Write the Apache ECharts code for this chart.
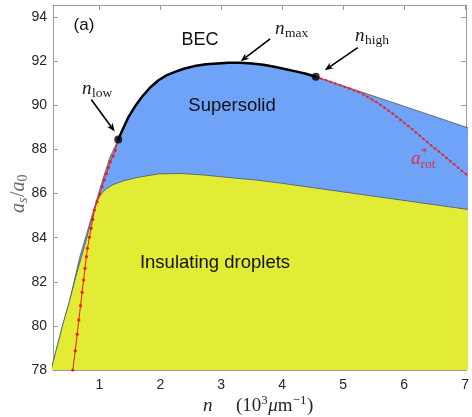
<!DOCTYPE html>
<html>
<head>
<meta charset="utf-8">
<script src="https://cdn.jsdelivr.net/npm/echarts@6/dist/echarts.min.js"></script>
<style>
  html, body { margin: 0; padding: 0; background: #fff; }
  #chart { width: 472px; height: 417px; }
</style>
</head>
<body>
<div id="chart"></div>
<script>
// Phase diagram of a dipolar gas: density n (10^3 um^-1) vs scattering length a_s/a_0
const xTicks = [1, 2, 3, 4, 5, 6, 7];
const yTicks = [78, 80, 82, 84, 86, 88, 90, 92, 94];

// lower-left edge of the supersolid region, up to n_low
const edgeLow = [[0.20, 77.85], [0.23, 78.23], [0.40, 80.05], [0.516, 81.17], [0.677, 83.1],
  [0.80, 84.25], [0.89, 85.1], [1.053, 86.61], [1.17, 87.62], [1.31, 88.45]];
// BEC / supersolid transition line from n_low to n_high
const becLine = [[1.31, 88.45], [1.39, 88.95], [1.48, 89.48], [1.59, 89.97], [1.70, 90.39],
  [1.83, 90.8], [1.97, 91.14], [2.10, 91.36], [2.24, 91.52], [2.40, 91.67], [2.56, 91.78],
  [2.75, 91.86], [2.94, 91.9], [3.12, 91.93], [3.31, 91.93], [3.50, 91.9], [3.69, 91.84],
  [3.87, 91.75], [4.06, 91.64], [4.22, 91.54], [4.39, 91.43], [4.55, 91.3]];
// upper edge beyond n_high
const edgeHigh = [[4.55, 91.3], [5.5, 90.42], [6.3, 89.68], [7.1, 88.93]];
// upper edge of the insulating droplet region
const dropletEdge = [[0.20, 77.85], [0.23, 78.23], [0.40, 80.05], [0.516, 81.17], [0.62, 82.3],
  [0.72, 83.25], [0.82, 84.25], [0.92, 85.3], [0.97, 85.7], [1.03, 85.98], [1.11, 86.2],
  [1.22, 86.4], [1.40, 86.58], [1.645, 86.74], [1.97, 86.89], [2.34, 86.91], [2.72, 86.84],
  [3.15, 86.72], [3.58, 86.61], [4.01, 86.46], [4.39, 86.31], [7.1, 85.26]];
// critical scattering length for rotons, below n_low and above n_high
const rotLow = [[0.565, 78.0], [0.605, 78.87], [0.637, 79.62], [0.664, 80.27], [0.692, 80.92],
  [0.718, 81.52], [0.742, 82.08], [0.765, 82.61], [0.788, 83.14], [0.805, 83.52], [0.837, 84.02],
  [0.865, 84.42], [0.892, 84.83], [0.919, 85.25], [0.964, 85.63], [1.005, 85.98], [1.045, 86.31],
  [1.08, 86.61], [1.116, 86.91], [1.148, 87.18], [1.179, 87.44], [1.223, 87.7], [1.262, 87.96],
  [1.31, 88.45]];
const rotHigh = [[4.55, 91.3], [4.8, 91.06], [5.03, 90.83], [5.30, 90.55], [5.57, 90.1],
  [5.84, 89.57], [6.11, 88.97], [6.38, 88.33], [6.65, 87.72], [6.91, 87.12], [7.1, 86.68]];
// marked densities
const nLow = [1.31, 88.45];
const nMax = [3.31, 91.93];
const nHigh = [4.55, 91.3];

const BLUE = '#6fa3f8';
const YELLOW = '#e2ec34';
const RED = '#ee1c1c';
const AXIS = '#9a9a9a';

const chart = echarts.init(document.getElementById('chart'), null, { renderer: 'canvas' });
const supersolidEdge = edgeLow.concat(becLine.slice(1), edgeHigh.slice(1));

function xAxisDef(pos, labels) {
  return {
    type: 'value', gridIndex: 0, position: pos, min: 0.24, max: 7.02,
    axisLine: { show: true, onZero: false, lineStyle: { color: AXIS, width: 1 } },
    axisTick: { show: true, inside: true, length: 5, customValues: xTicks, lineStyle: { color: AXIS } },
    axisLabel: { show: labels, customValues: xTicks, color: '#262626', fontSize: 14,
      fontFamily: 'Liberation Sans', margin: 8 },
    splitLine: { show: false }
  };
}
function yAxisDef(pos, labels) {
  return {
    type: 'value', gridIndex: 0, position: pos, min: 78, max: 94.55,
    axisLine: { show: true, onZero: false, lineStyle: { color: AXIS, width: 1 } },
    axisTick: { show: true, inside: true, length: 5, customValues: yTicks, lineStyle: { color: AXIS } },
    axisLabel: { show: labels, customValues: yTicks, color: '#262626', fontSize: 14,
      fontFamily: 'Liberation Sans', margin: 6 },
    splitLine: { show: false }
  };
}

chart.setOption({
  animation: false,
  grid: { left: 53, top: 5, width: 420, height: 365, containLabel: false },
  xAxis: [xAxisDef('bottom', true), xAxisDef('top', false)],
  yAxis: [yAxisDef('left', true), yAxisDef('right', false)],
  series: [
    { name: 'Supersolid', type: 'line', data: supersolidEdge, showSymbol: false, smooth: false,
      lineStyle: { color: '#4f5568', width: 0.8 },
      areaStyle: { color: BLUE, opacity: 1, origin: 'start' }, z: 1 },
    { name: 'Insulating droplets', type: 'line', data: dropletEdge, showSymbol: false, smooth: false,
      lineStyle: { color: '#4f5568', width: 0.8 },
      areaStyle: { color: YELLOW, opacity: 1, origin: 'start' }, z: 2 },
    { name: 'rot-low', type: 'line', data: rotLow, smooth: false, symbol: 'circle', symbolSize: 3.2,
      showSymbol: true, itemStyle: { color: RED }, lineStyle: { color: RED, width: 1 }, z: 3 },
    { name: 'rot-high', type: 'line', data: rotHigh, smooth: false, showSymbol: false,
      lineStyle: { color: RED, width: 0.8 }, z: 3 },
    { name: 'rot-high-dots', type: 'line', data: rotHigh, smooth: false, showSymbol: false,
      lineStyle: { color: RED, width: 2.4, type: [1.6, 3.4] }, z: 3 },
    { name: 'BEC line', type: 'line', data: becLine, smooth: false, showSymbol: false,
      lineStyle: { color: '#000', width: 2.5, join: 'round' }, z: 4 },
    { name: 'points', type: 'scatter', data: [nLow, nHigh], symbolSize: 8,
      itemStyle: { color: '#000' }, z: 5 }
  ]
});

// --- annotations ---
const measureCtx = document.createElement('canvas').getContext('2d');
function widthOf(t, font) { measureCtx.font = font; return measureCtx.measureText(t).width; }

// lay out a formula from pieces [text, size, italic, baselineShift, extraGap]
function formula(x0, baseline, pieces, color) {
  const out = [];
  let x = x0;
  pieces.forEach(function (p) {
    const font = (p[2] ? 'italic ' : '') + p[1] + 'px "Liberation Serif"';
    x += p[4] || 0;
    out.push({ type: 'text', x: x, y: baseline + (p[3] || 0) - 0.32 * p[1],
      style: { text: p[0], font: font, fill: color, textAlign: 'left', textVerticalAlign: 'middle' }, z: 20 });
    x += widthOf(p[0], font);
  });
  return out;
}

function label(text, cx, cy, size) {
  return { type: 'text', x: cx, y: cy, z: 20,
    style: { text: text, font: size + 'px "Liberation Sans"', fill: '#111',
      textAlign: 'center', textVerticalAlign: 'middle' } };
}

function arrow(target, sx, sy, ex, ey) {
  const p = chart.convertToPixel({ xAxisIndex: 0, yAxisIndex: 0 }, target);
  const x1 = p[0] + sx, y1 = p[1] + sy, x2 = p[0] + ex, y2 = p[1] + ey;
  const ang = Math.atan2(y2 - y1, x2 - x1);
  const L = 9, W = 0.38;
  const w1 = [x2 - L * Math.cos(ang - W), y2 - L * Math.sin(ang - W)];
  const w2 = [x2 - L * Math.cos(ang + W), y2 - L * Math.sin(ang + W)];
  const notch = [x2 - 6 * Math.cos(ang), y2 - 6 * Math.sin(ang)];
  return [
    { type: 'line', z: 20, shape: { x1: x1, y1: y1, x2: notch[0], y2: notch[1] },
      style: { stroke: '#000', lineWidth: 1.6 } },
    { type: 'polygon', z: 20, shape: { points: [[x2, y2], w1, notch, w2] },
      style: { fill: '#000' } }
  ];
}

const TXT = '#1a1a1a';
let graphics = [
  label('(a)', 84, 25.5, 17),
  label('BEC', 200, 40, 18),
  label('Supersolid', 232, 106, 18.5),
  label('Insulating droplets', 215, 263, 18.5)
];
graphics = graphics.concat(
  formula(82, 95, [['n', 19, true], ['low', 13.5, false, 2.5, 0.5]], TXT),
  formula(275, 35, [['n', 19, true], ['max', 13.5, false, 2.5, 0.5]], TXT),
  formula(355, 42, [['n', 19, true], ['high', 13.5, false, 2.5, 0.5]], TXT),
  formula(411, 165, [['a', 19, true], ['*', 13, false, -8, 0.5]], '#d8323a'),
  formula(420.5, 165, [['rot', 13.5, false, 3.5]], '#d8323a'),
  formula(203, 412, [['n', 19, true]], '#262626'),
  formula(236, 412, [['(10', 19, false], ['3', 13, false, -7.5], ['\u03bc', 19, true, 0, 0.5],
    ['m', 19, false], ['\u22121', 13, false, -7.5], [')', 19, false, 0, 0.5]], '#262626'),
  arrow(nLow, -27, -40, -3.5, -8),
  arrow(nMax, 30, -24, 0.5, -1.5),
  arrow(nHigh, 42, -29, 9, -6.5)
);

// rotated y-axis title a_s / a_0
graphics.push({
  type: 'group', x: 25, y: 213, rotation: Math.PI / 2, z: 20,
  children: formula(0, 0, [['a', 20, true], ['s', 14, true, 3], ['/', 20, false, 0, 0.5],
    ['a', 20, true], ['0', 14, false, 3]], '#6a6a6a')
});

chart.setOption({ graphic: graphics });
</script>
</body>
</html>
